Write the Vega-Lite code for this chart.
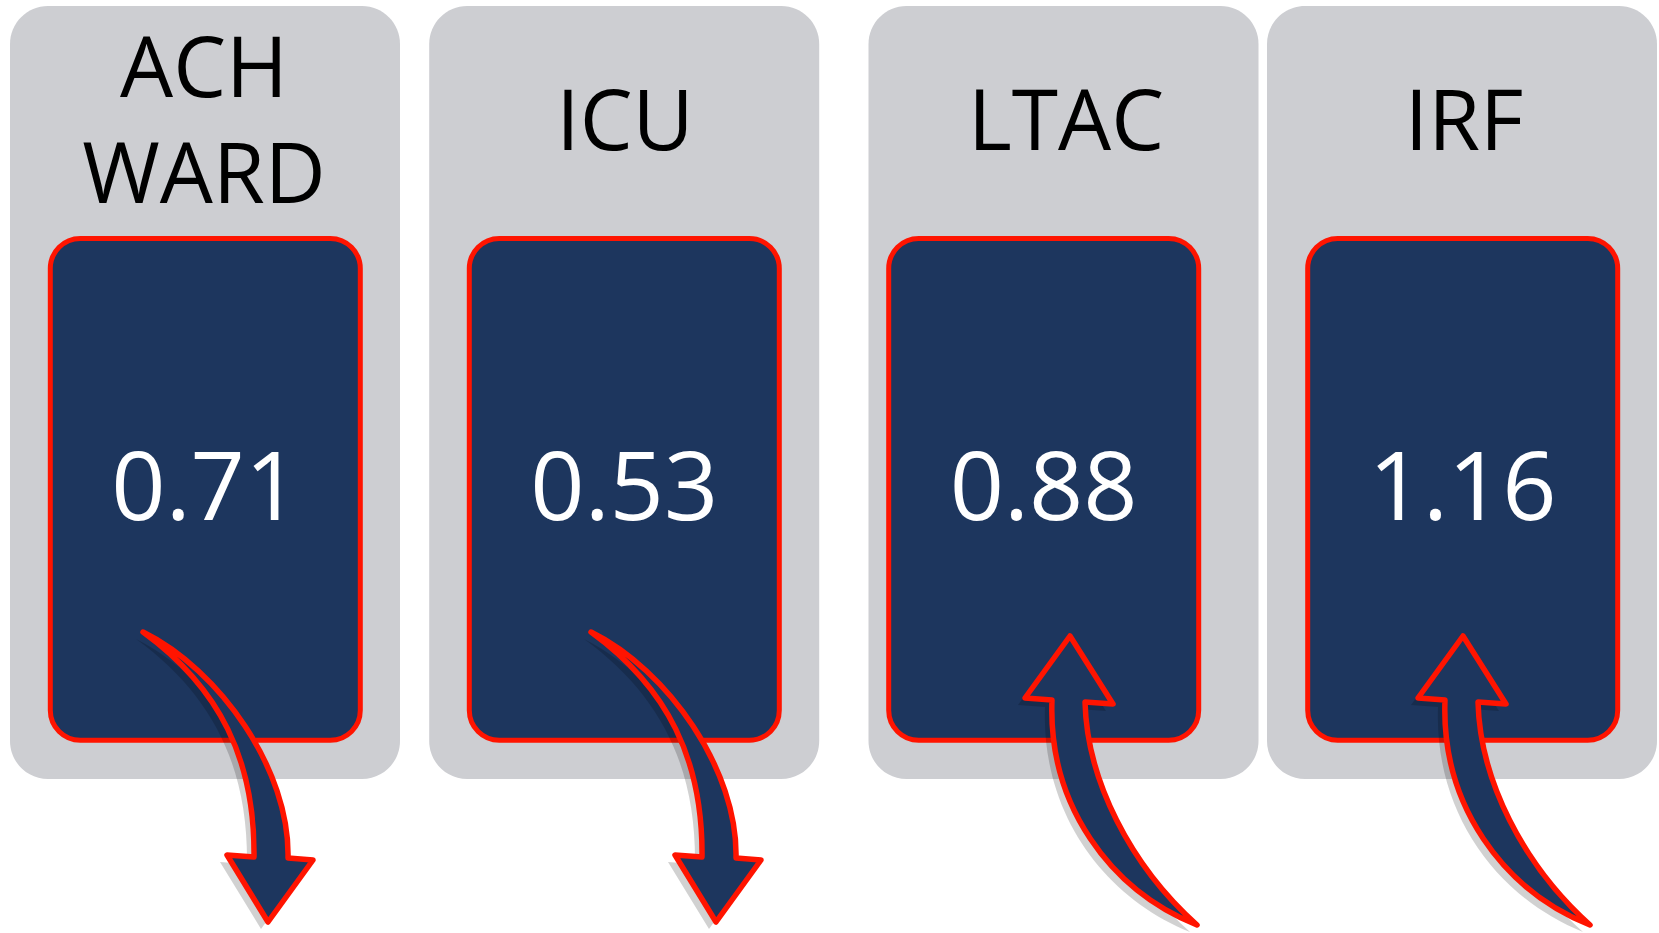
{
  "$schema": "https://vega.github.io/schema/vega-lite/v6.json",
  "width": 1659,
  "height": 933,
  "padding": 0,
  "autosize": {"type": "fit", "contains": "padding"},
  "background": "#FFFFFF",
  "config": {"view": {"stroke": null}},
  "data": {"values": [
    {"unit": "ACH WARD", "idx": 1, "value": 0.71, "trend": "down"},
    {"unit": "ICU", "idx": 2, "value": 0.53, "trend": "down"},
    {"unit": "LTAC", "idx": 3, "value": 0.88, "trend": "up"},
    {"unit": "IRF", "idx": 4, "value": 1.16, "trend": "up"}
  ]},
  "resolve": {"scale": {"x": "independent"}},
  "layer": [
    {
      "mark": {"type": "bar", "width": 390, "cornerRadius": 38, "fill": "#CDCED2"},
      "encoding": {
        "x": {"field": "idx", "type": "quantitative", "axis": null, "scale": {"domain": [1, 2, 3, 4], "range": [205, 624.2, 1063.5, 1462], "zero": false, "nice": false, "padding": 0}},
        "y": {"datum": 6, "type": "quantitative", "axis": null, "scale": {"domain": [0, 933], "reverse": true, "zero": false, "nice": false, "padding": 0}},
        "y2": {"datum": 779}
      }
    },
    {
      "mark": {"type": "bar", "width": 310, "cornerRadius": 30, "fill": "#1D365E", "stroke": "#FF1400", "strokeWidth": 5},
      "encoding": {
        "x": {"field": "idx", "type": "quantitative", "axis": null, "scale": {"domain": [1, 2, 3, 4], "range": [205.3, 624.3, 1043.7, 1462.7], "zero": false, "nice": false, "padding": 0}},
        "y": {"datum": 238.5, "type": "quantitative"},
        "y2": {"datum": 740.2}
      }
    },
    {
      "mark": {"type": "text", "font": "Open Sans", "fontSize": 95, "color": "#FFFFFF", "align": "center", "baseline": "middle"},
      "encoding": {
        "x": {"field": "idx", "type": "quantitative", "axis": null, "scale": {"domain": [1, 2, 3, 4], "range": [205.3, 624.3, 1043.7, 1462.7], "zero": false, "nice": false, "padding": 0}},
        "y": {"datum": 491, "type": "quantitative"},
        "text": {"field": "value", "type": "quantitative", "format": ".2f"}
      }
    },
    {
      "mark": {"type": "point", "filled": true, "size": 4, "fill": "#000000", "opacity": 0.18, "strokeWidth": 0, "xOffset": -7, "yOffset": 7},
      "encoding": {
        "x": {"field": "idx", "type": "quantitative", "axis": null, "scale": {"domain": [1, 2, 3, 4], "range": [205, 653, 1070, 1463], "zero": false, "nice": false, "padding": 0}},
        "y": {"datum": 780, "type": "quantitative"},
        "shape": {
          "condition": {"test": "datum.trend === 'down'", "value": "M -62 -148 C 15 -110 85 -10 83 78 L 108 80 L 63 142 L 22 75 L 49 77 C 50 -20 15 -92 -62 -148 Z"},
          "value": "M 0 -144 L 43 -76 L 15 -78 C 17 0 60 85 127 145 C 40 110 -22 25 -18 -80 L -45 -82 Z"
        }
      }
    },
    {
      "mark": {"type": "point", "filled": true, "size": 4, "fill": "#1D365E", "stroke": "#FF1400", "strokeWidth": 5.5, "strokeJoin": "round", "opacity": 1},
      "encoding": {
        "x": {"field": "idx", "type": "quantitative", "axis": null, "scale": {"domain": [1, 2, 3, 4], "range": [205, 653, 1070, 1463], "zero": false, "nice": false, "padding": 0}},
        "y": {"datum": 780, "type": "quantitative"},
        "shape": {
          "condition": {"test": "datum.trend === 'down'", "value": "M -62 -148 C 15 -110 85 -10 83 78 L 108 80 L 63 142 L 22 75 L 49 77 C 50 -20 15 -92 -62 -148 Z"},
          "value": "M 0 -144 L 43 -76 L 15 -78 C 17 0 60 85 127 145 C 40 110 -22 25 -18 -80 L -45 -82 Z"
        }
      }
    },
    {
      "transform": [{"filter": "indexof(datum.unit, ' ') < 0"}],
      "mark": {"type": "text", "font": "Open Sans", "fontSize": 84, "color": "#000000", "align": "center", "baseline": "middle"},
      "encoding": {
        "x": {"field": "idx", "type": "quantitative", "axis": null, "scale": {"domain": [1, 2, 3, 4], "range": [204, 625, 1066, 1464], "zero": false, "nice": false, "padding": 0}},
        "y": {"datum": 125, "type": "quantitative"},
        "text": {"field": "unit", "type": "nominal"}
      }
    },
    {
      "transform": [{"filter": "indexof(datum.unit, ' ') >= 0"}],
      "mark": {"type": "text", "font": "Open Sans", "fontSize": 84, "color": "#000000", "align": "center", "baseline": "middle", "lineBreak": " ", "lineHeight": 106},
      "encoding": {
        "x": {"field": "idx", "type": "quantitative", "axis": null, "scale": {"domain": [1, 2, 3, 4], "range": [204, 625, 1066, 1464], "zero": false, "nice": false, "padding": 0}},
        "y": {"datum": 72, "type": "quantitative"},
        "text": {"field": "unit", "type": "nominal"}
      }
    }
  ]
}
